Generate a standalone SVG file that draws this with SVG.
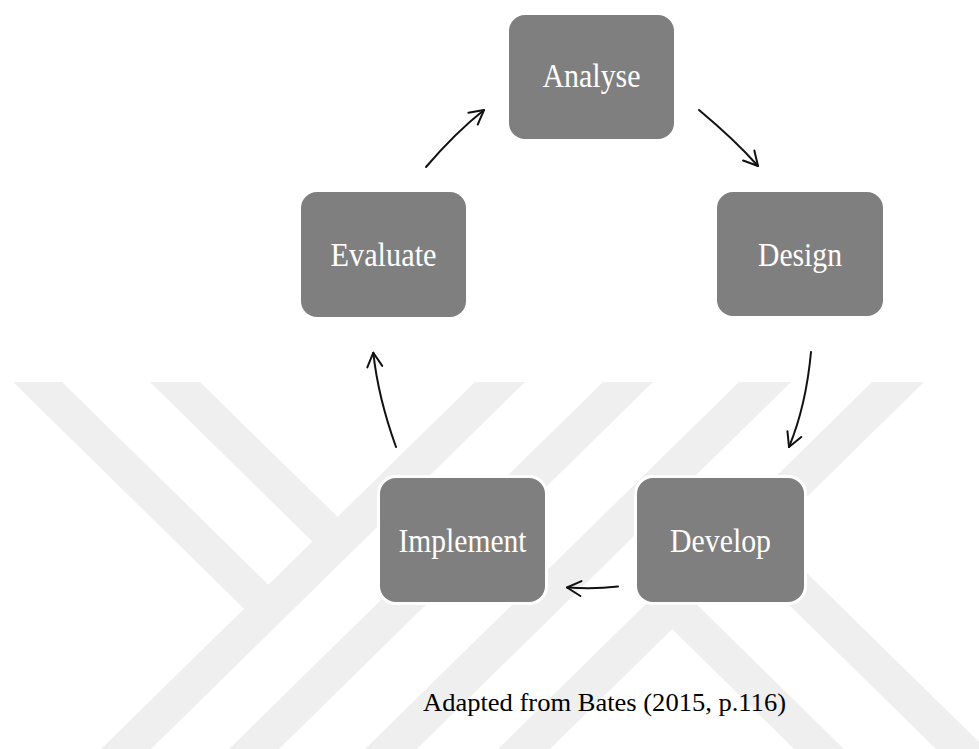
<svg xmlns="http://www.w3.org/2000/svg" width="979" height="749" viewBox="0 0 979 749">
  <style>
    .wm { fill: #efefef; }
    .halo { fill: #ffffff; }
    .box { fill: #7f7f7f; }
    .lbl { font-family: "Liberation Serif", "Times New Roman", serif; font-size: 34px; fill: #ffffff; text-anchor: middle; }
    .cap { font-family: "Liberation Serif", "Times New Roman", serif; font-size: 26px; fill: #000000; }
    .arr { fill: none; stroke: #111111; stroke-width: 2; stroke-linecap: round; marker-end: url(#head); }
  </style>
  <defs>
    <marker id="head" markerUnits="userSpaceOnUse" viewBox="-18 -10 22 20" refX="0" refY="0" markerWidth="22" markerHeight="20" orient="auto">
      <path d="M-14,-7.5 L0,0 L-14,7.5" fill="none" stroke="#111111" stroke-width="2" stroke-linecap="round" stroke-linejoin="round"/>
    </marker>
  </defs>
  <rect width="979" height="749" fill="#ffffff"/>
  <g id="watermark" class="wm">
    <polygon points="475,382 525,382 151,749 101,749"/>
    <polygon points="603,382 653,382 279,749 229,749"/>
    <polygon points="739,382 791,382 417,749 365,749"/>
    <polygon points="872,382 924,382 550,749 498,749"/>
    <polygon points="13,382 62,382 281,597 256.5,621"/>
    <polygon points="150,382 200,382 350,529 325,554"/>
    <polygon points="659,616 684,592 844,749 794,749"/>
    <polygon points="730,547 755,522 986,749 936,749"/>
  </g>
  <g id="connectors">
    <path class="arr" d="M426,167 Q455,133 484,110"/>
    <path class="arr" d="M699,110 Q735,140 758,166"/>
    <path class="arr" d="M811,352 Q806,406 789,447"/>
    <path class="arr" d="M618,586.5 Q594,589.5 567,587.5"/>
    <path class="arr" d="M396,447 Q378,397 373.3,352.7"/>
  </g>
  <g id="analyse">
    <rect class="halo" x="506" y="12" width="171" height="130" rx="19"/>
    <rect class="box" x="509" y="15" width="165" height="124" rx="16"/>
    <text class="lbl" x="591.5" y="87" textLength="98" lengthAdjust="spacingAndGlyphs">Analyse</text>
  </g>
  <g id="design">
    <rect class="halo" x="714" y="189" width="172" height="130" rx="19"/>
    <rect class="box" x="717" y="192" width="166" height="124" rx="16"/>
    <text class="lbl" x="800" y="266" textLength="84" lengthAdjust="spacingAndGlyphs">Design</text>
  </g>
  <g id="develop">
    <rect class="halo" x="634" y="475" width="173" height="130" rx="19"/>
    <rect class="box" x="637" y="478" width="167" height="124" rx="16"/>
    <text class="lbl" x="720.5" y="552" textLength="101" lengthAdjust="spacingAndGlyphs">Develop</text>
  </g>
  <g id="implement">
    <rect class="halo" x="377" y="475" width="171" height="130" rx="19"/>
    <rect class="box" x="380" y="478" width="165" height="124" rx="16"/>
    <text class="lbl" x="462.5" y="552" textLength="128" lengthAdjust="spacingAndGlyphs">Implement</text>
  </g>
  <g id="evaluate">
    <rect class="halo" x="298" y="189" width="171" height="131" rx="19"/>
    <rect class="box" x="301" y="192" width="165" height="125" rx="16"/>
    <text class="lbl" x="383.5" y="266" textLength="106" lengthAdjust="spacingAndGlyphs">Evaluate</text>
  </g>
  <g id="caption">
    <text class="cap" x="423" y="711" textLength="363" lengthAdjust="spacingAndGlyphs">Adapted from Bates (2015, p.116)</text>
  </g>
</svg>
